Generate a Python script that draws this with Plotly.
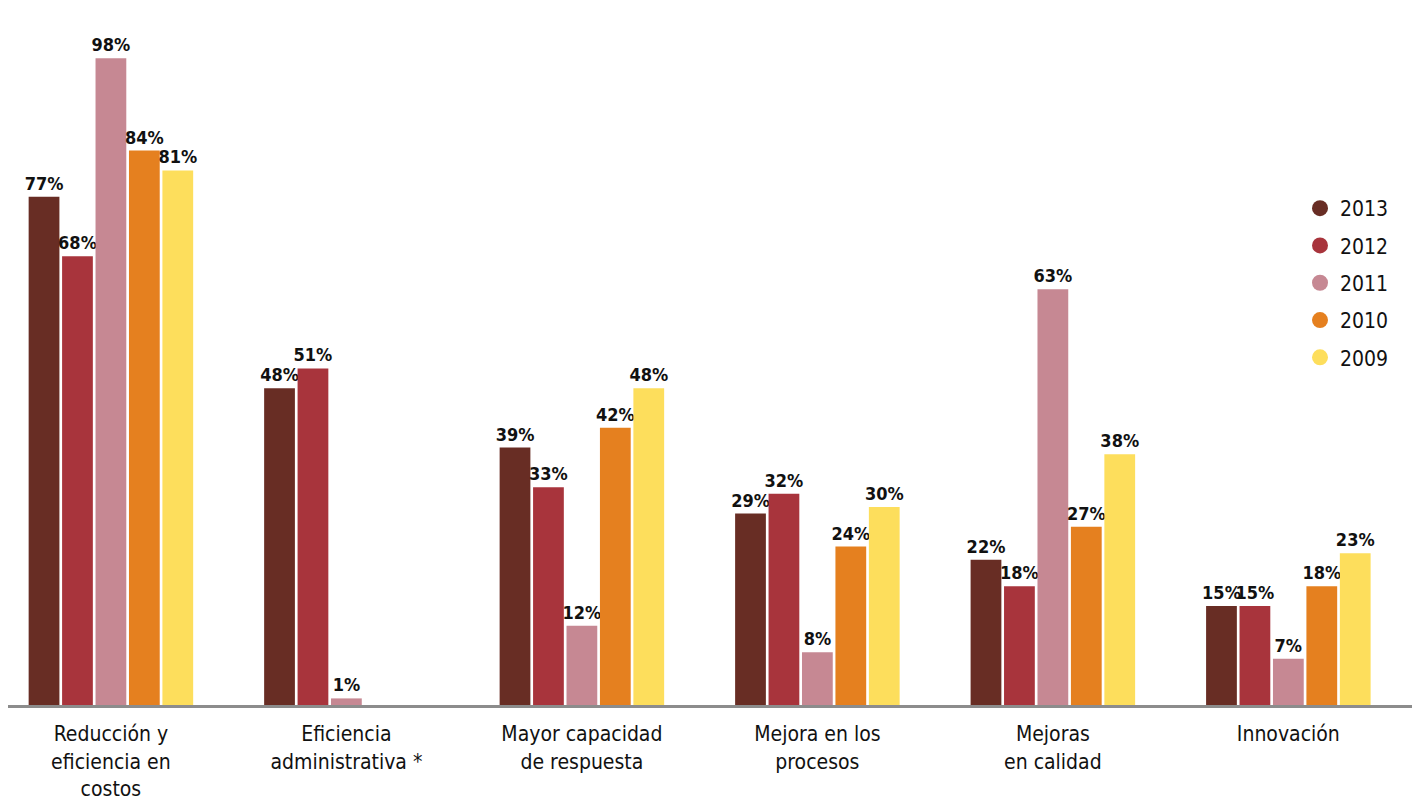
import plotly.graph_objects as go

categories = [
    "Reducción y<br>eficiencia en<br>costos",
    "Eficiencia<br>administrativa *",
    "Mayor capacidad<br>de respuesta",
    "Mejora en los<br>procesos",
    "Mejoras<br>en calidad",
    "Innovación",
]
years = ["2013", "2012", "2011", "2010", "2009"]
v2013 = [77, 48, 39, 29, 22, 15]
v2012 = [68, 51, 33, 32, 18, 15]
v2011 = [98, 1, 12, 8, 63, 7]
v2010 = [84, None, 42, 24, 27, 18]
v2009 = [81, None, 48, 30, 38, 23]
series = [v2013, v2012, v2011, v2010, v2009]
colors = ["#682D24", "#A8343C", "#C68893", "#E5801F", "#FDDE5C"]

FONT = "DejaVu Sans Condensed, Roboto, sans-serif"

fig = go.Figure()
for name, vals, col in zip(years, series, colors):
    fig.add_trace(go.Bar(
        x=categories, y=vals, name=name, marker=dict(color=col, line=dict(width=0)),
        text=[f"<b>{v}%</b>" if v is not None else "" for v in vals],
        textposition="outside", constraintext="none",
        textfont=dict(family=FONT, size=18, color="#111"),
        cliponaxis=False, showlegend=False,
    ))
for name, col in zip(years, colors):
    fig.add_trace(go.Scatter(
        x=[None], y=[None], mode="markers", name=name, legendgroup=name,
        marker=dict(color=col, size=17, symbol="circle"),
    ))

fig.update_layout(
    width=1420, height=799,
    margin=dict(l=0, r=0, t=2, b=102),
    paper_bgcolor="white", plot_bgcolor="white",
    barmode="group", bargap=0.29, bargroupgap=0.08,
    font=dict(family=FONT, size=21, color="#111"),
    xaxis=dict(type="category", range=[-0.437, 5.593], showline=True, linecolor="#8C8C8C",
               linewidth=3, ticks="", showgrid=False, zeroline=False, automargin=False,
               ticklabelstandoff=8,
               tickfont=dict(family=FONT, size=21, color="#111")),
    yaxis=dict(range=[0, 105.3], autorange=False, visible=False, showgrid=False, zeroline=False),
    legend=dict(x=1292 / 1420, y=(705 - 188) / 695, yref="paper",
                xanchor="left", yanchor="top", traceorder="grouped", tracegroupgap=7,
                font=dict(family=FONT, size=21, color="#111"), bgcolor="rgba(0,0,0,0)"),
    showlegend=True,
)
fig.write_html("out.html")
